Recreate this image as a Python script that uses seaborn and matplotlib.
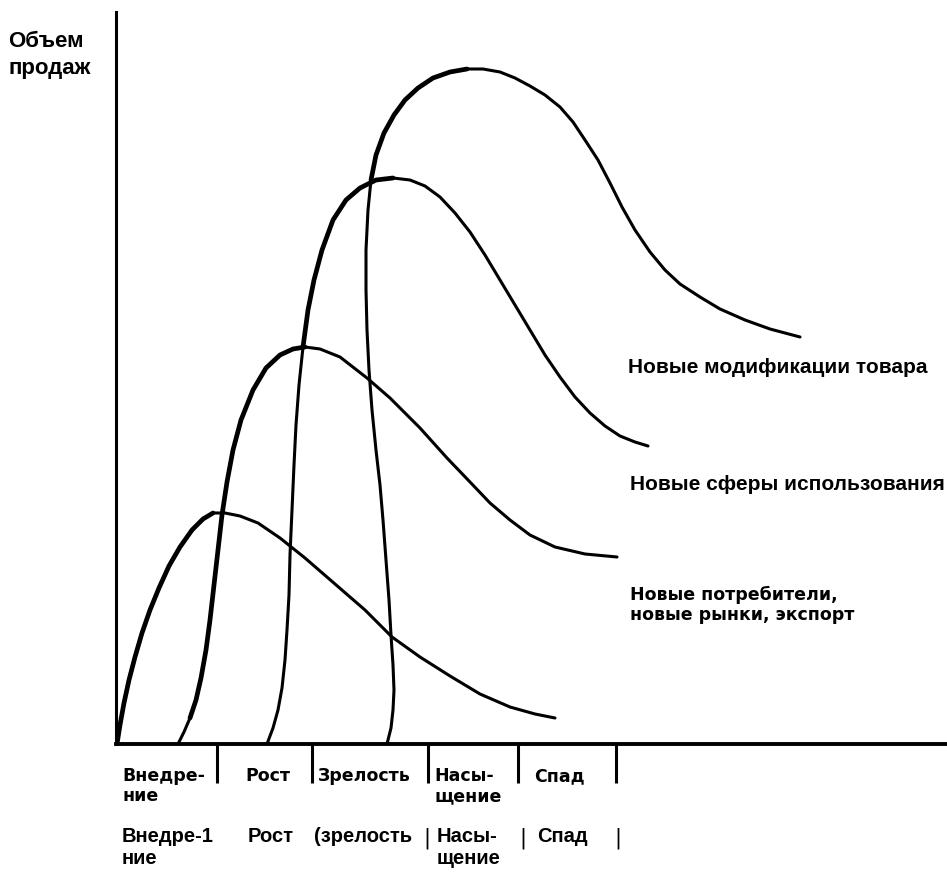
import matplotlib
matplotlib.use("Agg")
import matplotlib.pyplot as plt
import seaborn as sns

# product life cycle curves: x = time (stage units), y = sales volume
c1_x = [0.01, 0.04, 0.08, 0.13, 0.19, 0.26, 0.34, 0.43, 0.53, 0.64, 0.76, 0.87, 0.97, 1.09, 1.24,
        1.42, 1.64, 1.89, 2.19, 2.49, 2.76, 3.04, 3.34, 3.64, 3.94, 4.19, 4.39]
c1_y = [0.0, 1.9, 4.1, 6.4, 8.7, 11.1, 13.4, 15.6, 17.8, 19.7, 21.4, 22.5, 23.1, 23.1, 22.8,
        22.1, 20.6, 18.6, 16.0, 13.4, 10.7, 8.7, 6.8, 5.0, 3.7, 3.0, 2.6]

c2_x = [0.62, 0.68, 0.74, 0.80, 0.85, 0.90, 0.94, 0.98, 1.02, 1.06, 1.11, 1.17, 1.25, 1.37, 1.50, 1.64,
        1.77, 1.89, 2.04, 2.24, 2.51, 2.74, 3.04, 3.31, 3.54, 3.74, 3.94, 4.14, 4.39, 4.69, 5.01]
c2_y = [0.0, 1.2, 2.6, 4.4, 6.6, 9.4, 12.4, 15.9, 19.4, 22.9, 26.2, 29.4, 32.4, 35.4, 37.6, 38.9,
        39.5, 39.7, 39.5, 38.7, 36.6, 34.6, 31.6, 28.6, 26.2, 24.1, 22.4, 20.9, 19.7, 19.0, 18.7]

c3_x = [1.51, 1.57, 1.62, 1.66, 1.69, 1.71, 1.73, 1.74, 1.76, 1.78, 1.80, 1.83, 1.87, 1.92, 1.98, 2.06,
        2.17, 2.30, 2.44, 2.60, 2.77, 2.94, 3.09, 3.24, 3.39, 3.54, 3.69, 3.84, 3.99, 4.14, 4.29, 4.44,
        4.59, 4.74, 4.89, 5.04, 5.19, 5.32]
c3_y = [0.0, 1.6, 3.4, 5.6, 8.4, 11.4, 14.9, 18.9, 23.4, 27.9, 31.9, 35.9, 39.7, 43.4, 46.4, 49.4,
        52.4, 54.4, 55.6, 56.4, 56.6, 56.4, 55.8, 54.7, 53.1, 51.2, 48.9, 46.4, 43.9, 41.4, 38.9, 36.7,
        34.7, 33.1, 31.8, 30.8, 30.2, 29.8]

c4_x = [2.71, 2.75, 2.77, 2.78, 2.77, 2.75, 2.73, 2.70, 2.67, 2.64, 2.60, 2.56, 2.53, 2.51, 2.50, 2.50,
        2.52, 2.55, 2.60, 2.68, 2.78, 2.89, 3.02, 3.17, 3.34, 3.51, 3.67, 3.84, 3.99, 4.14, 4.29, 4.44,
        4.57, 4.69, 4.82, 4.94, 5.06, 5.19, 5.34, 5.49, 5.64, 5.84, 6.04, 6.29, 6.54, 6.84]
c4_y = [0.0, 1.6, 3.4, 5.4, 7.9, 10.9, 14.4, 18.4, 22.4, 25.9, 29.4, 33.4, 37.4, 41.4, 45.4, 49.4,
        53.4, 56.4, 58.9, 61.1, 62.9, 64.4, 65.6, 66.6, 67.2, 67.5, 67.5, 67.2, 66.6, 65.8, 64.9, 63.7,
        62.2, 60.4, 58.4, 56.1, 53.7, 51.4, 49.2, 47.4, 46.0, 44.7, 43.5, 42.4, 41.5, 40.7]

stage_edges = [1.01, 1.96, 3.12, 4.02, 5.00]
stage_names = ["Внедре-\nние", "Рост", "Зрелость", "Насы-\nщение", "Спад"]
stage_names_2 = ["Внедре-1\nние", "Рост", "(зрелость", "Насы-\nщение", "Спад"]
curve_labels = ["Новые модификации товара", "Новые сферы использования",
                "Новые потребители,\nновые рынки, экспорт"]

sns.set_theme(style="white")
narrow = ["Liberation Sans Narrow", "Liberation Sans", "DejaVu Sans"]
wide = ["DejaVu Sans"]
plt.rcParams["font.family"] = ["Liberation Sans", "DejaVu Sans"]
plt.rcParams["text.color"] = "black"

W, H = 947, 873
fig = plt.figure(figsize=(W / 100, H / 100), dpi=100)
ax = fig.add_axes([116 / W, (H - 744) / H, (W - 116) / W, (744 - 12) / H])

curves = [(c1_x, c1_y), (c2_x, c2_y), (c3_x, c3_y), (c4_x, c4_y)]
# where the heavy pen stroke starts on each curve (index), it ends at the peak
thick_from = [0, 2, 12, 17]
for (cx, cy), t0 in zip(curves, thick_from):
    peak = cy.index(max(cy))
    sns.lineplot(x=cx, y=cy, sort=False, estimator=None, color="black", lw=2.2, ax=ax,
                 solid_capstyle="round", solid_joinstyle="round")
    sns.lineplot(x=cx[t0:peak + 1], y=cy[t0:peak + 1], sort=False, estimator=None,
                 color="black", lw=3.4, ax=ax, solid_capstyle="round", solid_joinstyle="round")

ax.set_xlim(0, 8.31)
ax.set_ylim(0, 73.2)
ax.set_xticks([])
ax.set_yticks([])
sns.despine(ax=ax)
ax.spines["left"].set_linewidth(2.2)
ax.spines["bottom"].set_linewidth(2.8)
ax.spines["left"].set_color("black")
ax.spines["bottom"].set_color("black")

# stage separators under the axis
ax.vlines(stage_edges, -3.9, 0, color="black", lw=2.2, clip_on=False)


def fx(px):
    return px / W


def fy(py):
    return 1 - py / H


fig.text(fx(8), fy(55), "Объем\nпродаж", family=narrow, fontweight="bold",
         fontsize=16, va="center", ha="left", linespacing=1.4)

# first row of stage names
row1_x = [122, 245, 318, 434, 534]
for x, s in zip(row1_x, stage_names):
    fig.text(fx(x), fy(767), s, family=wide, fontweight="bold", fontsize=12.5,
             va="top", ha="left", linespacing=1.15)

# second row
row2_x = [122, 248, 314, 437, 537]
for x, s in zip(row2_x, stage_names_2):
    fig.text(fx(x), fy(827), s, family=narrow, fontweight="bold", fontsize=14.5,
             va="top", ha="left", linespacing=1.2)
for x in [427, 523, 618]:
    fig.text(fx(x), fy(838), "|", family=wide, fontsize=15, va="center", ha="center")

fig.text(fx(628), fy(367), curve_labels[0], family=narrow, fontweight="bold",
         fontsize=15, va="center", ha="left")
fig.text(fx(630), fy(485), curve_labels[1], family=narrow, fontweight="bold",
         fontsize=15, va="center", ha="left")
fig.text(fx(630), fy(605), curve_labels[2], family=wide, fontweight="bold",
         fontsize=12.5, va="center", ha="left", linespacing=1.2)

fig.savefig("out.png", dpi=100, facecolor="white")
